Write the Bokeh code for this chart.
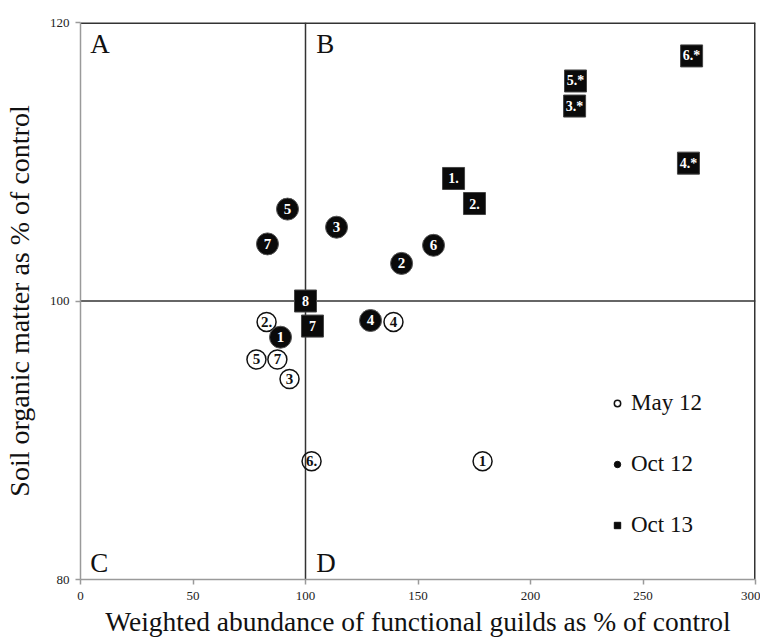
from bokeh.plotting import figure
from bokeh.models import (ColumnDataSource, FixedTicker, Span, Label, Legend, LegendItem, Range1d)
from bokeh.core.properties import value
from bokeh.embed import file_html
from bokeh.resources import INLINE

# ---- data ----
may12_labels = ["1", "2.", "3", "4", "5", "6.", "7"]
may12_x = [178.7, 82.7, 92.9, 139.1, 78.2, 102.7, 87.5]
may12_y = [88.5, 98.5, 94.4, 98.5, 95.8, 88.5, 95.8]

oct12_labels = ["1", "2", "3", "4", "5", "6", "7"]
oct12_x = [88.9, 142.7, 113.8, 128.9, 92.0, 156.9, 83.1]
oct12_y = [97.4, 102.7, 105.3, 98.6, 106.6, 104.0, 104.1]

oct13_labels = ["1.", "2.", "3.*", "4.*", "5.*", "6.*", "7", "8"]
oct13_x = [165.8, 175.1, 219.6, 270.2, 220.0, 271.6, 103.1, 100.0]
oct13_y = [108.8, 107.0, 114.0, 109.9, 115.8, 117.6, 98.2, 100.0]

x_ticks = [0, 50, 100, 150, 200, 250, 300]
y_ticks = [80, 100, 120]
x_range = (0, 300)
y_range = (80, 120)
control = 100

series_names = ["May 12", "Oct 12", "Oct 13"]
quadrants = ["A", "B", "C", "D"]

SERIF = "Liberation Serif"
NAN = float("nan")

p = figure(frame_width=675, frame_height=557,
           x_range=Range1d(*x_range), y_range=Range1d(*y_range),
           output_backend="svg", toolbar_location=None,
           min_border_left=10, min_border_top=22, min_border_right=5, min_border_bottom=10)
p.outline_line_color = None
p.grid.visible = False
p.background_fill_color = "white"

# axes
for ax in (p.xaxis[0], p.yaxis[0]):
    ax.axis_line_color = "#9a9a9a"
    ax.axis_line_width = 1.5
    ax.major_tick_line_color = "#9a9a9a"
    ax.major_tick_line_width = 1.5
    ax.major_tick_out = 5
    ax.major_tick_in = 0
    ax.minor_tick_line_color = None
    ax.major_label_text_font = SERIF
    ax.major_label_text_font_size = "13px"
    ax.major_label_text_color = "#222222"
    ax.axis_label_text_font = SERIF
    ax.axis_label_text_font_style = "normal"
    ax.axis_label_text_color = "#111111"
p.xaxis.axis_label_text_font_size = "27.5px"
p.yaxis.axis_label_text_font_size = "28px"
p.xaxis.ticker = FixedTicker(ticks=x_ticks)
p.yaxis.ticker = FixedTicker(ticks=y_ticks)
p.xaxis.axis_label = "Weighted abundance of functional guilds as % of control"
p.yaxis.axis_label = "Soil organic matter as % of control"
p.xaxis.major_label_standoff = 7
p.xaxis.axis_label_standoff = 3
p.yaxis.major_label_standoff = 6
p.yaxis.axis_label_standoff = 12

# border lines (top / right) and control lines
p.add_layout(Span(location=y_range[1], dimension="width", line_color="#333333", line_width=3, level="underlay"))
p.add_layout(Span(location=x_range[1], dimension="height", line_color="#333333", line_width=3, level="underlay"))
p.add_layout(Span(location=control, dimension="width", line_color="#333333", line_width=1.5, level="underlay"))
p.add_layout(Span(location=control, dimension="height", line_color="#333333", line_width=1.5, level="underlay"))

# quadrant letters
qpos = [(4.3, y_range[1] - 0.5, "top"), (104.8, y_range[1] - 0.5, "top"),
        (4.3, y_range[0] + 1.15, "alphabetic"), (104.8, y_range[0] + 1.15, "alphabetic")]
for q, (qx, qy, bl) in zip(quadrants, qpos):
    p.add_layout(Label(x=qx, y=qy, text=q, text_font=SERIF, text_font_size="27px",
                       text_color="#111111", text_baseline=bl))

src_may = ColumnDataSource(dict(x=may12_x, y=may12_y, t=may12_labels))
src_o12 = ColumnDataSource(dict(x=oct12_x, y=oct12_y, t=oct12_labels))
src_o13 = ColumnDataSource(dict(x=oct13_x, y=oct13_y, t=oct13_labels))

r_may = p.scatter("x", "y", source=src_may, marker="circle", size=19,
                  fill_color=None, line_color="#111111", line_width=1.5)
r_o12 = p.scatter("x", "y", source=src_o12, marker="circle", size=22,
                  fill_color="#0a0a0a", line_color="#555555", line_width=1)
r_o13 = p.scatter("x", "y", source=src_o13, marker="square", size=22,
                  fill_color="#0a0a0a", line_color="#444444", line_width=1)

p.text("x", "y", text="t", source=src_may, text_font=value(SERIF), text_font_size="15px",
       text_font_style="bold", text_color="#111111", text_align="center", text_baseline="middle")
p.text("x", "y", text="t", source=src_o12, text_font=value(SERIF), text_font_size="15px",
       text_font_style="bold", text_color="white", text_align="center", text_baseline="middle")
p.text("x", "y", text="t", source=src_o13, text_font=value(SERIF), text_font_size="14px",
       text_font_style="bold", text_color="white", text_align="center", text_baseline="middle")

# legend swatches (placeholder renderers, only drawn in the legend)
leg_may = p.scatter(x=[NAN], y=[NAN], marker="circle", size=11, fill_color="white",
                    line_color="#111111", line_width=1.5)
leg_o12 = p.scatter(x=[NAN], y=[NAN], marker="circle", size=15, fill_color="#0a0a0a",
                    line_color="#0a0a0a")
leg_o13 = p.scatter(x=[NAN], y=[NAN], marker="square", size=15, fill_color="#0a0a0a",
                    line_color="#0a0a0a")

legend = Legend(items=[LegendItem(label=series_names[0], renderers=[leg_may]),
                       LegendItem(label=series_names[1], renderers=[leg_o12]),
                       LegendItem(label=series_names[2], renderers=[leg_o13])],
                location=(529, 41), orientation="vertical",
                label_text_font=SERIF, label_text_font_size="23px", label_text_color="#111111",
                glyph_width=16, glyph_height=16, label_standoff=6, spacing=35,
                border_line_color=None, background_fill_alpha=0, padding=0, margin=0)
p.add_layout(legend, "center")

open("out.html", "w").write(file_html(p, INLINE))
